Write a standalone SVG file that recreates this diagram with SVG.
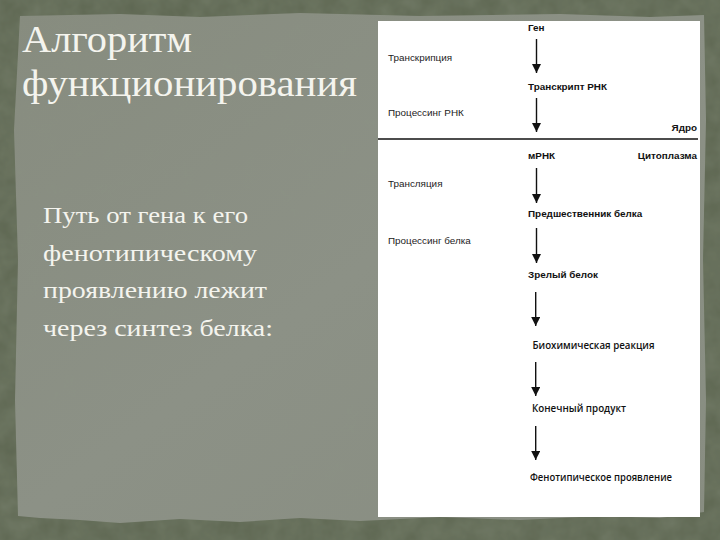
<svg xmlns="http://www.w3.org/2000/svg" width="720" height="540" viewBox="0 0 720 540">
  <defs>
    <linearGradient id="paper" x1="0" y1="0" x2="1" y2="1">
      <stop offset="0" stop-color="#878c7f"/>
      <stop offset="0.5" stop-color="#8c9186"/>
      <stop offset="1" stop-color="#888d81"/>
    </linearGradient>
    <filter id="grain" x="0" y="0" width="100%" height="100%">
      <feTurbulence type="fractalNoise" baseFrequency="0.05" numOctaves="3" seed="4" result="n"/>
      <feColorMatrix in="n" type="matrix" values="0 0 0 0 0.3  0 0 0 0 0.34  0 0 0 0 0.26  0 0 0 0.35 0" result="c"/>
      <feComposite in="c" in2="SourceGraphic" operator="in"/>
    </filter>
    <marker id="ah" viewBox="0 0 10 10" refX="10" refY="5" markerWidth="9" markerHeight="9" markerUnits="userSpaceOnUse" orient="auto">
      <path d="M0,0 L10,5 L0,10 Z" fill="#111"/>
    </marker>
    <style>
      .t{font-family:"Liberation Sans",Arial,sans-serif;font-size:9.9px;fill:#222}
      .b{font-weight:bold;fill:#111}
      .c{font-family:"Open Sans","Liberation Sans",sans-serif;font-size:10px;font-weight:600;fill:#111}
      .arr{stroke:#111;stroke-width:1.4;fill:none;marker-end:url(#ah)}
      .title{font-family:"Liberation Serif","DejaVu Serif",serif;font-size:37px;fill:#f4f4ee}
      .body{font-family:"Liberation Serif","DejaVu Serif",serif;font-size:23px;fill:#f4f4ee}
    </style>
  </defs>

  <g id="background">
    <rect x="0" y="0" width="720" height="540" fill="#5d6651"/>
    <rect x="0" y="0" width="720" height="540" fill="#5d6651" filter="url(#grain)"/>
    <path d="M20,16 L120,14 L200,17 L300,13 L420,16 L560,14 L650,17 L704,15 L706,120 L703,260 L706,400 L704,512 L660,518 L600,516 L520,520 L440,517 L360,521 L300,518 L240,522 L180,519 L120,523 L80,520 L40,518 L18,516 L15,400 L18,260 L14,130 Z" fill="url(#paper)"/>
    <path d="M20,16 L120,14 L200,17 L300,13 L420,16 L560,14 L650,17 L704,15 L706,120 L703,260 L706,400 L704,512 L660,518 L600,516 L520,520 L440,517 L360,521 L300,518 L240,522 L180,519 L120,523 L80,520 L40,518 L18,516 L15,400 L18,260 L14,130 Z" fill="#8a8f82" filter="url(#grain)" opacity="0.15"/>
  </g>

  <g id="title">
    <text class="title" x="22" y="52" textLength="170" lengthAdjust="spacingAndGlyphs">Алгоритм</text>
    <text class="title" x="22" y="96" textLength="335" lengthAdjust="spacingAndGlyphs">функционирования</text>
  </g>

  <g id="body">
    <text class="body" x="43" y="223" textLength="205" lengthAdjust="spacingAndGlyphs">Путь от гена к его</text>
    <text class="body" x="43" y="260.5" textLength="214" lengthAdjust="spacingAndGlyphs">фенотипическому</text>
    <text class="body" x="43" y="298" textLength="224" lengthAdjust="spacingAndGlyphs">проявлению лежит</text>
    <text class="body" x="43" y="335.5" textLength="230" lengthAdjust="spacingAndGlyphs">через синтез белка:</text>
  </g>

  <g id="panel">
    <rect x="378" y="21" width="322" height="496" fill="#ffffff"/>
    <line x1="378" y1="139" x2="698" y2="139" stroke="#111" stroke-width="1.4"/>
  </g>

  <g id="connectors">
    <line class="arr" x1="536.5" y1="39" x2="536.5" y2="73"/>
    <line class="arr" x1="536.5" y1="98" x2="536.5" y2="132"/>
    <line class="arr" x1="536.5" y1="168" x2="536.5" y2="203"/>
    <line class="arr" x1="536.5" y1="228" x2="536.5" y2="263"/>
    <line class="arr" x1="535.7" y1="292" x2="535.7" y2="326"/>
    <line class="arr" x1="535.7" y1="362" x2="535.7" y2="396"/>
    <line class="arr" x1="535.7" y1="426" x2="535.7" y2="460"/>
  </g>

  <g id="gene"><text class="t b" x="528" y="30.5">Ген</text></g>
  <g id="transcription"><text class="t" x="388" y="60.5">Транскрипция</text></g>
  <g id="rna-transcript"><text class="t b" x="528" y="90">Транскрипт РНК</text></g>
  <g id="rna-processing"><text class="t" x="388" y="115.5">Процессинг РНК</text></g>
  <g id="nucleus"><text class="t b" x="697" y="131" text-anchor="end">Ядро</text></g>
  <g id="mrna"><text class="t b" x="528" y="159">мРНК</text></g>
  <g id="cytoplasm"><text class="t b" x="697" y="159" text-anchor="end">Цитоплазма</text></g>
  <g id="translation"><text class="t" x="388" y="187">Трансляция</text></g>
  <g id="precursor"><text class="t b" x="528" y="217">Предшественник белка</text></g>
  <g id="protein-processing"><text class="t" x="388" y="243.5">Процессинг белка</text></g>
  <g id="mature-protein"><text class="t b" x="528" y="278">Зрелый белок</text></g>
  <g id="biochem"><text class="c" x="532.5" y="348.5" textLength="122" lengthAdjust="spacingAndGlyphs">Биохимическая реакция</text></g>
  <g id="end-product"><text class="c" x="532" y="411.5" textLength="94" lengthAdjust="spacingAndGlyphs">Конечный продукт</text></g>
  <g id="phenotype"><text class="c" x="530" y="480.5" textLength="142" lengthAdjust="spacingAndGlyphs">Фенотипическое проявление</text></g>
</svg>
